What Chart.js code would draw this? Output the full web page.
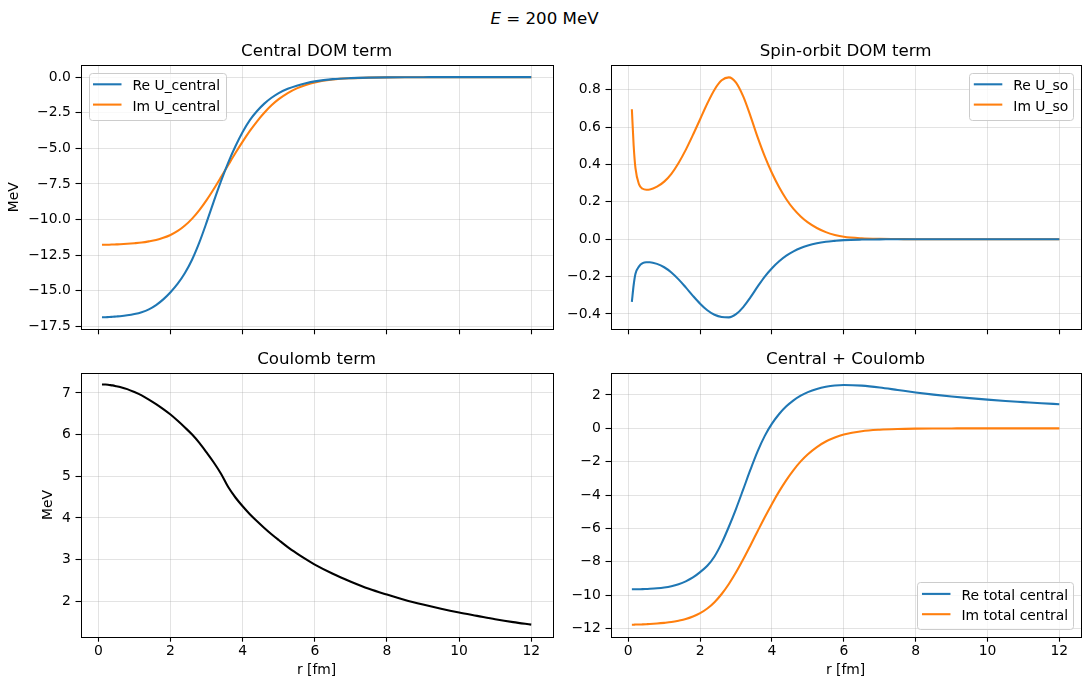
<!DOCTYPE html>
<html lang="en">
<head>
<meta charset="UTF-8">
<title>DOM terms at E = 200 MeV</title>
<script src="https://cdn.jsdelivr.net/npm/chart.js@4"></script>
<style>
    body {
        margin: 0;
        background: #fff;
        font-family: 'DejaVu Sans', sans-serif;
    }

    #fig {
        position: relative;
        width: 1089px;
        height: 690px;
        overflow: hidden;
    }

    .suptitle {
        position: absolute;
        left: 0;
        top: 9px;
        width: 1089px;
        text-align: center;
        font-size: 16.67px;
        line-height: 20px;
        color: #000;
    }

    .panel { position: absolute; }
    #p1 { left: 0;     top: 36px;  width: 560px; height: 310px; }
    #p2 { left: 560px; top: 36px;  width: 529px; height: 310px; }
    #p3 { left: 0;     top: 346px; width: 560px; height: 344px; }
    #p4 { left: 560px; top: 346px; width: 529px; height: 344px; }
</style>
</head>
<body>
<div id="fig">
    <div class="suptitle"><i>E</i> = 200 MeV</div>
    <div class="panel" id="p1"><canvas id="c1"></canvas></div>
    <div class="panel" id="p2"><canvas id="c2"></canvas></div>
    <div class="panel" id="p3"><canvas id="c3"></canvas></div>
    <div class="panel" id="p4"><canvas id="c4"></canvas></div>
</div>

<script>
// radius grid [fm] and values [MeV]
const r = [0.1, 0.15, 0.2, 0.3, 0.4, 0.5, 0.6, 0.8, 1.0, 1.2, 1.4, 1.6, 1.8, 2.0, 2.2, 2.4, 2.6, 2.8,
    3.0, 3.2, 3.4, 3.6, 3.8, 4.0, 4.2, 4.4, 4.6, 4.8, 5.0, 5.25, 5.5, 5.75, 6.0, 6.5, 7.0, 7.5,
    8.0, 8.5, 9.0, 9.5, 10.0, 10.5, 11.0, 11.5, 12.0];

const reCentral = [-16.86, -16.86, -16.85, -16.84, -16.82, -16.80, -16.78, -16.72, -16.63, -16.50,
    -16.30, -16.00, -15.60, -15.10, -14.50, -13.75, -12.80, -11.60, -10.20, -8.72, -7.30, -6.00,
    -4.85, -3.85, -3.02, -2.38, -1.86, -1.45, -1.12, -0.82, -0.60, -0.43, -0.30, -0.14, -0.07,
    -0.035, -0.017, -0.008, -0.004, -0.002, -0.001, 0, 0, 0, 0];

const imCentral = [-11.77, -11.77, -11.76, -11.76, -11.75, -11.74, -11.73, -11.70, -11.66, -11.61,
    -11.53, -11.43, -11.28, -11.08, -10.80, -10.42, -9.93, -9.33, -8.63, -7.85, -7.02, -6.17,
    -5.33, -4.53, -3.78, -3.10, -2.50, -1.98, -1.55, -1.12, -0.79, -0.55, -0.37, -0.17, -0.08,
    -0.037, -0.017, -0.008, -0.004, -0.002, -0.001, 0, 0, 0, 0];

const reSO = [-0.335, -0.245, -0.185, -0.145, -0.128, -0.123, -0.123, -0.132, -0.150, -0.178,
    -0.215, -0.258, -0.303, -0.345, -0.380, -0.404, -0.416, -0.418, -0.401, -0.363, -0.311,
    -0.254, -0.200, -0.155, -0.118, -0.088, -0.065, -0.047, -0.034, -0.022, -0.014, -0.009,
    -0.005, -0.002, -0.001, 0, 0, 0, 0, 0, 0, 0, 0, 0, 0];

const imSO = [0.695, 0.50, 0.38, 0.293, 0.270, 0.265, 0.266, 0.281, 0.308, 0.350, 0.408, 0.478,
    0.558, 0.642, 0.726, 0.800, 0.850, 0.866, 0.838, 0.764, 0.660, 0.546, 0.443, 0.354, 0.278,
    0.214, 0.162, 0.122, 0.090, 0.060, 0.038, 0.023, 0.013, 0.005, 0.002, 0.001, 0, 0, 0, 0,
    0, 0, 0, 0, 0];

const coulomb = [7.2, 7.2, 7.2, 7.19, 7.18, 7.16, 7.14, 7.09, 7.02, 6.94, 6.84, 6.73, 6.61, 6.48,
    6.33, 6.17, 6.0, 5.8, 5.57, 5.33, 5.06, 4.74, 4.49, 4.28, 4.09, 3.92, 3.76, 3.61, 3.47, 3.3,
    3.15, 3.01, 2.88, 2.66, 2.47, 2.3, 2.16, 2.03, 1.92, 1.82, 1.73, 1.65, 1.57, 1.5, 1.44];

const reTotal = [-9.65, -9.65, -9.65, -9.645, -9.64, -9.63, -9.62, -9.59, -9.54, -9.46, -9.34,
    -9.17, -8.94, -8.62, -8.24, -7.68, -6.88, -5.9, -4.82, -3.66, -2.48, -1.38, -0.45, 0.28,
    0.86, 1.32, 1.68, 1.96, 2.17, 2.36, 2.49, 2.57, 2.6, 2.56, 2.45, 2.3, 2.15, 2.02, 1.91,
    1.81, 1.72, 1.64, 1.57, 1.5, 1.45];

// Im part of the total central is the Im central term (Coulomb is real)
const imTotal = imCentral;

// tick values
const xTicks = [0, 2, 4, 6, 8, 10, 12];
const centralTicks = [0, -2.5, -5, -7.5, -10, -12.5, -15, -17.5];
const soTicks = [0.8, 0.6, 0.4, 0.2, 0, -0.2, -0.4];
const coulombTicks = [7, 6, 5, 4, 3, 2];
const totalTicks = [2, 0, -2, -4, -6, -8, -10, -12];

const BLUE = '#1f77b4';
const ORANGE = '#ff7f0e';

Chart.defaults.font.family = "'DejaVu Sans', sans-serif";
Chart.defaults.font.size = 13.9;
Chart.defaults.color = '#000';

// minus sign like matplotlib
function fmt(v, dec) {
    const s = Math.abs(v).toFixed(dec);
    return v < 0 ? '\u2212' + s : s;
}

// axes frame (all 4 sides) + matplotlib-like legend box
const mplFrame = {
    id: 'mplFrame',
    afterDraw(chart, args, opts) {
        const {ctx, chartArea: a} = chart;
        ctx.save();
        ctx.strokeStyle = '#000';
        ctx.lineWidth = 1;
        const L = Math.round(a.left) + 0.5, T = Math.round(a.top) + 0.5;
        ctx.strokeRect(L, T, Math.round(a.right) - Math.round(a.left), Math.round(a.bottom) - Math.round(a.top));

        if (opts.loc) {
            ctx.font = "13.9px 'DejaVu Sans'";
            const items = chart.data.datasets;
            const tw = Math.max(...items.map(d => ctx.measureText(d.label).width));
            const w = 49 + tw;
            const h = 11.8 + (items.length - 1) * 20.3 + 15;
            const x0 = opts.loc.includes('left') ? a.left + 8 : a.right - 7.5 - w;
            const y0 = opts.loc.includes('upper') ? a.top + 7.5 : a.bottom - 7.5 - h;
            ctx.beginPath();
            ctx.roundRect(Math.round(x0) + 0.5, Math.round(y0) + 0.5, Math.round(w), Math.round(h), 3);
            ctx.fillStyle = 'rgba(255,255,255,0.8)';
            ctx.fill();
            ctx.strokeStyle = '#cccccc';
            ctx.stroke();
            items.forEach((d, i) => {
                const cy = y0 + 11.8 + i * 20.3;
                ctx.beginPath();
                ctx.moveTo(x0 + 4.5, cy);
                ctx.lineTo(x0 + 33, cy);
                ctx.strokeStyle = d.borderColor;
                ctx.lineWidth = 2.08;
                ctx.stroke();
                ctx.fillStyle = '#000';
                ctx.textBaseline = 'alphabetic';
                ctx.textAlign = 'left';
                ctx.fillText(d.label, x0 + 44, cy + 6);
            });
        }
        ctx.restore();
    }
};

function gridOpts() {
    return {
        color: 'rgba(176,176,176,0.35)',
        lineWidth: 1,
        drawTicks: true,
        tickLength: 5,
        tickColor: '#000',
        tickWidth: 1.1
    };
}

function makePanel(id, cfg) {
    return new Chart(document.getElementById(id), {
        type: 'line',
        data: {
            datasets: cfg.series.map(s => ({
                label: s.label,
                data: r.map((x, i) => ({x: x, y: s.values[i]})),
                borderColor: s.color,
                borderWidth: 2.08,
                pointRadius: 0,
                cubicInterpolationMode: 'monotone',
                fill: false
            }))
        },
        options: {
            responsive: true,
            maintainAspectRatio: false,
            animation: false,
            events: [],
            layout: {padding: {left: 0, right: cfg.padRight, top: 0, bottom: 0}},
            plugins: {
                legend: {display: false},
                tooltip: {enabled: false},
                title: {
                    display: true,
                    text: cfg.title,
                    fullSize: false,
                    color: '#000',
                    font: {size: 16.67, weight: 'normal', lineHeight: 1.2},
                    padding: {top: cfg.titleTop, bottom: cfg.titleBottom}
                },
                mplFrame: {loc: cfg.legend}
            },
            scales: {
                x: {
                    type: 'linear',
                    min: -0.495,
                    max: 12.595,
                    afterBuildTicks: s => { s.ticks = xTicks.map(v => ({value: v})); },
                    afterFit: s => { s.height = cfg.xHeight; },
                    grid: gridOpts(),
                    border: {display: false},
                    ticks: {display: cfg.xLabels, padding: 1.4, maxRotation: 0, autoSkip: false,
                        callback: v => fmt(v, 0)},
                    title: {display: cfg.xLabels, text: 'r [fm]', font: {size: 13.9},
                        padding: {top: 0, bottom: 11}}
                },
                y: {
                    type: 'linear',
                    min: cfg.yMin,
                    max: cfg.yMax,
                    afterBuildTicks: s => { s.ticks = cfg.yTicks.map(v => ({value: v})); },
                    afterFit: s => { s.width = cfg.yWidth; },
                    grid: gridOpts(),
                    border: {display: false},
                    ticks: {padding: 4.7, autoSkip: false, callback: v => fmt(v, cfg.yDec)},
                    title: {display: !!cfg.yTitle, text: 'MeV', font: {size: 13.9},
                        padding: {top: cfg.yTitlePad || 0, bottom: 0}}
                }
            }
        },
        plugins: [mplFrame]
    });
}

makePanel('c1', {
    title: 'Central DOM term',
    series: [
        {label: 'Re U_central', values: reCentral, color: BLUE},
        {label: 'Im U_central', values: imCentral, color: ORANGE}
    ],
    legend: 'upper left',
    yMin: -17.70, yMax: 0.85, yTicks: centralTicks, yDec: 1,
    yWidth: 80.5, padRight: 7.3, xHeight: 16.7, xLabels: false,
    titleTop: 5.2, titleBottom: 3.8, yTitle: true, yTitlePad: 6.2
});

makePanel('c2', {
    title: 'Spin-orbit DOM term',
    series: [
        {label: 'Re U_so', values: reSO, color: BLUE},
        {label: 'Im U_so', values: imSO, color: ORANGE}
    ],
    legend: 'upper right',
    yMin: -0.482, yMax: 0.932, yTicks: soTicks, yDec: 1,
    yWidth: 50.5, padRight: 8.3, xHeight: 16.7, xLabels: false,
    titleTop: 5.2, titleBottom: 3.8, yTitle: false
});

makePanel('c3', {
    title: 'Coulomb term',
    series: [
        {label: 'Coulomb', values: coulomb, color: '#000'}
    ],
    legend: null,
    yMin: 1.15, yMax: 7.47, yTicks: coulombTicks, yDec: 0,
    yWidth: 80.5, padRight: 7.3, xHeight: 53.3, xLabels: true,
    titleTop: 3.2, titleBottom: 4.1, yTitle: true, yTitlePad: 40
});

makePanel('c4', {
    title: 'Central + Coulomb',
    series: [
        {label: 'Re total central', values: reTotal, color: BLUE},
        {label: 'Im total central', values: imTotal, color: ORANGE}
    ],
    legend: 'lower right',
    yMin: -12.49, yMax: 3.3, yTicks: totalTicks, yDec: 0,
    yWidth: 50.5, padRight: 8.3, xHeight: 53.3, xLabels: true,
    titleTop: 3.2, titleBottom: 4.1, yTitle: false
});
</script>
</body>
</html>
